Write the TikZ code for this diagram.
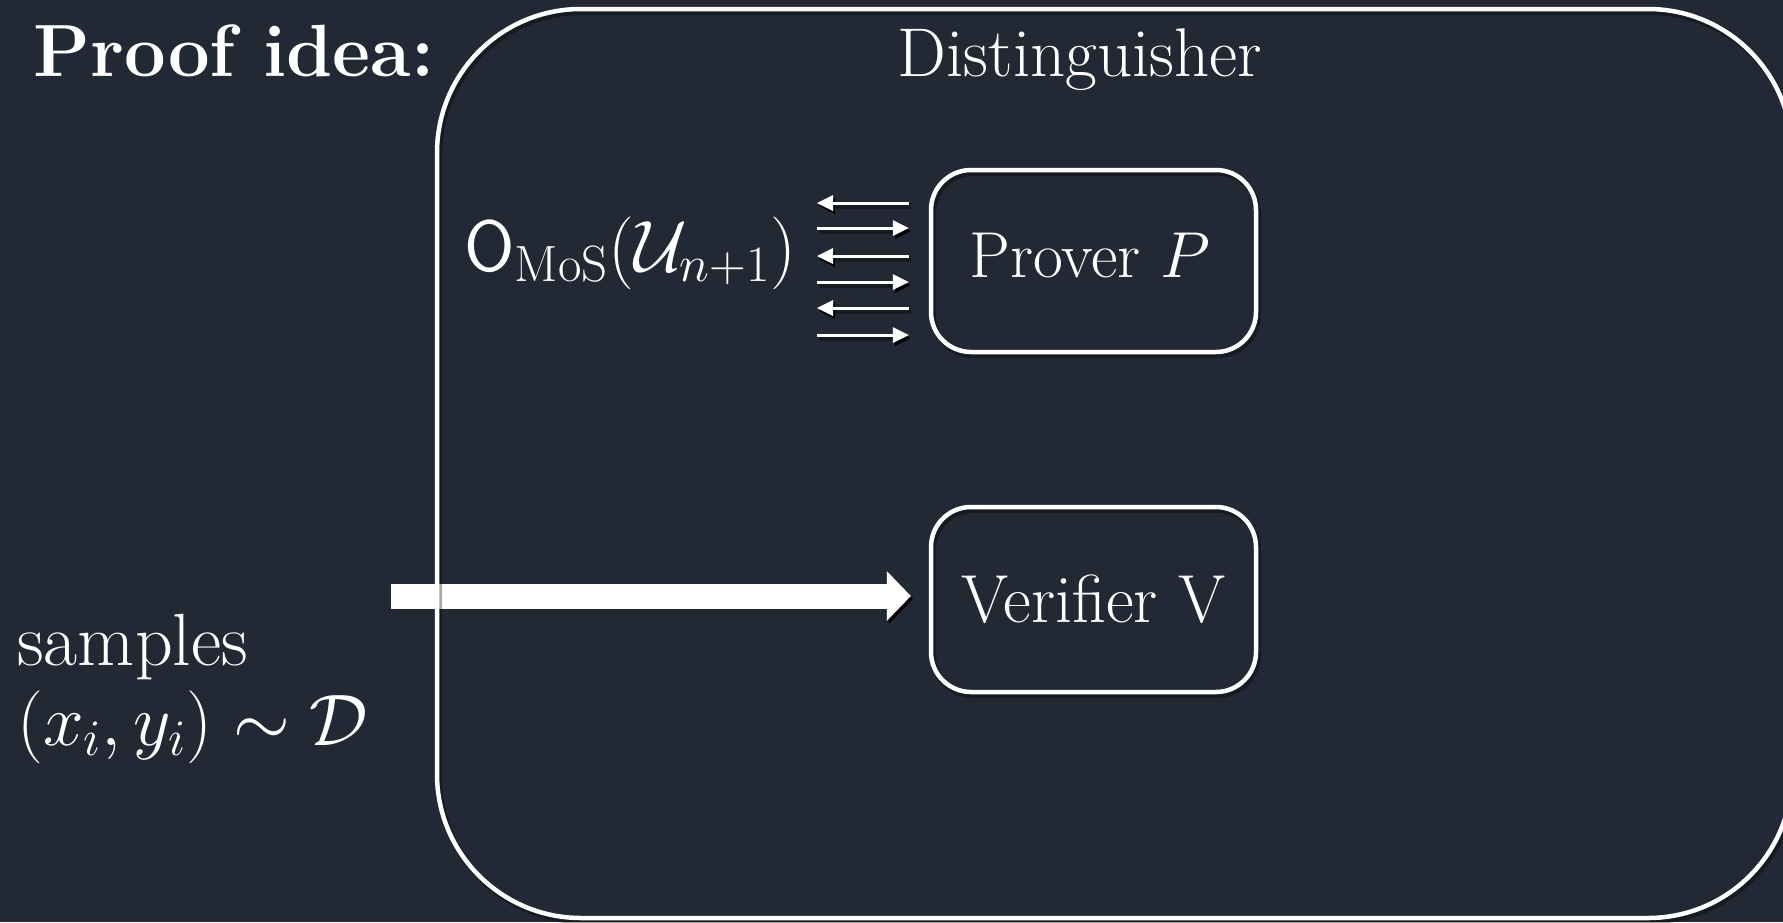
\RequirePackage{fix-cm}
\documentclass[tikz,border=0pt]{standalone}
\usepackage{amsmath}
\usetikzlibrary{arrows.meta}
\definecolor{slate}{RGB}{35,41,52}

\tikzset{
  softshadow/.style={preaction={draw=black, draw opacity=0.35, line width=3pt,
      transform canvas={shift={(1pt,-1.5pt)}}}},
  frame/.style={draw=white, line width=2.25pt, rounded corners=20pt,
      inner sep=0pt, softshadow},
  label/.style={text=white, inner sep=0pt, font=\fontsize{34}{41}\selectfont},
  pingarrow/.style={draw=white, line width=1.5pt,
      shorten <=10pt, shorten >=10pt},
  tipstyle/.tip={Triangle[length=8pt, width=8pt, line width=0pt]},
  bigarrow/.style={draw=white, line width=12.5pt,
      -{Triangle[length=12pt, width=25pt, line width=0pt]}, shorten >=9pt}
}

\begin{document}
\begin{tikzpicture}[x=0.5pt, y=-0.5pt]
  % page background and frame of the slide
  \fill[slate] (0,0) rectangle (1783,922);
  \useasboundingbox (0,0) rectangle (1783,922);
  \clip (0,0) rectangle (1783,922);

  % heading
  \node[label, anchor=base west, font=\fontsize{37}{44}\selectfont\bfseries]
    (heading) at (33,76) {Proof idea:};

  % the two parties
  \node[frame, minimum width=162.5pt, minimum height=91pt]
    (prover) at (1093.5,261) {};
  \node[label, anchor=base, font=\fontsize{32.5}{39}\selectfont]
    (provername) at (1090,277) {Prover $P$};
  \node[frame, label, minimum width=162.5pt, minimum height=92.5pt]
    (verifier) at (1093.5,599.5) {Verifier V};

  % oracle that the prover talks to
  \node[label, anchor=base east, font=\fontsize{36.4}{44}\selectfont]
    (oracle) at (797,271) {$\mathsf{O}_{\mathrm{MoS}}(\mathcal{U}_{n+1})$};

  % samples given to the verifier
  \node[label, anchor=base west, font=\fontsize{37}{44}\selectfont]
    (samples) at (17,665) {samples};
  \node[label, anchor=base west, font=\fontsize{36.5}{44}\selectfont]
    (dist) at (17,745) {$(x_i, y_i) \sim \mathcal{D}$};

  \coordinate (src) at (391,596);
  \draw[bigarrow, softshadow] (src) -- (src -| verifier.west);

  % back-and-forth messages between oracle and prover
  \foreach \yy in {203,256,308} {
    \coordinate (msg) at (0,\yy);
    \draw[pingarrow, softshadow, tipstyle-] (oracle.east |- msg) -- (prover.west |- msg);
  }
  \foreach \yy in {228,282,335} {
    \coordinate (msg) at (0,\yy);
    \draw[pingarrow, softshadow, -tipstyle] (oracle.east |- msg) -- (prover.west |- msg);
  }

  % the distinguisher that contains both parties
  \node[frame, rounded corners=72pt, minimum width=677.5pt, minimum height=454.5pt]
    (distinguisher) at (1114.5,463.5) {};
  \node[label, anchor=base, font=\fontsize{34.5}{41}\selectfont]
    (distlabel) at (1080,76) {Distinguisher};
\end{tikzpicture}
\end{document}
